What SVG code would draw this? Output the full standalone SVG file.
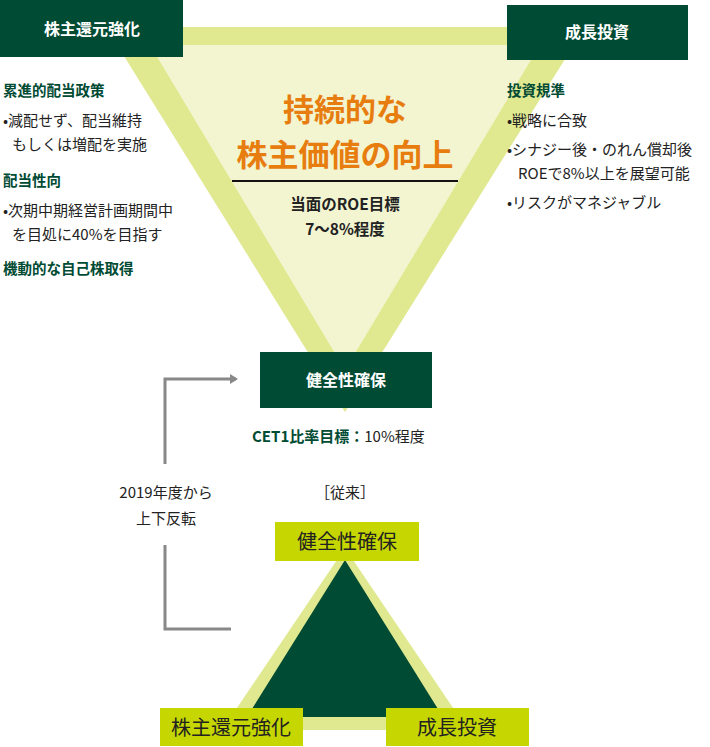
<svg xmlns="http://www.w3.org/2000/svg" width="710" height="747" viewBox="0 0 710 747">
<style>
text{font-family:"Noto Sans CJK JP","Noto Sans",sans-serif}
.dk{fill:#004b33}
.lime{fill:#c5d600}
.wt{fill:#fff;font-weight:bold;font-size:16px;text-anchor:middle}
.h{fill:#004b33;font-weight:bold;font-size:14.5px}
.b{fill:#222;font-size:15px}
.c{text-anchor:middle}
.lt{fill:#222;font-size:20px;text-anchor:middle}
</style>
<defs><marker id="ar" markerWidth="8" markerHeight="10" refX="6" refY="5" orient="auto" markerUnits="userSpaceOnUse"><path d="M0,0 L8,5 L0,10 Z" fill="#888"/></marker></defs>
<g id="top-triangle">
<rect x="180" y="27" width="330" height="18" fill="#e0e890"/>
<polygon points="106,27 585,27 345,412" fill="#e0e890"/>
<polygon points="150,45 540,45 345,370" fill="#f2f5d0"/>
<text x="345" y="121" class="c" font-size="31" font-weight="bold" fill="#e87d0f">持続的な</text>
<text x="345" y="166" class="c" font-size="31" font-weight="bold" fill="#e87d0f">株主価値の向上</text>
<line x1="232" y1="181" x2="458" y2="181" stroke="#111" stroke-width="2"/>
<text x="345" y="210" class="c" font-size="15.5" font-weight="bold" fill="#222">当面のROE目標</text>
<text x="345" y="235" class="c" font-size="15.5" font-weight="bold" fill="#222">7〜8%程度</text>
</g>
<g id="node-return"><rect x="0" y="0" width="183" height="57" class="dk"/><text x="92" y="35" class="wt">株主還元強化</text></g>
<g id="node-invest"><rect x="507" y="5" width="181" height="55" class="dk"/><text x="597" y="38" class="wt">成長投資</text></g>
<g id="node-health"><rect x="260" y="352" width="172" height="56" class="dk"/><text x="346" y="386" class="wt">健全性確保</text></g>
<g id="left-notes">
<text x="3" y="96" class="h">累進的配当政策</text>
<text x="3" y="126" class="b">•減配せず、配当維持</text>
<text x="12" y="150" class="b">もしくは増配を実施</text>
<text x="3" y="186" class="h">配当性向</text>
<text x="3" y="216" class="b">•次期中期経営計画期間中</text>
<text x="12" y="240" class="b">を目処に40%を目指す</text>
<text x="3" y="274" class="h">機動的な自己株取得</text>
</g>
<g id="right-notes">
<text x="507" y="96" class="h">投資規準</text>
<text x="507" y="126" class="b">•戦略に合致</text>
<text x="507" y="155" class="b">•シナジー後・のれん償却後</text>
<text x="518" y="179" class="b">ROEで8%以上を展望可能</text>
<text x="507" y="208" class="b">•リスクがマネジャブル</text>
</g>
<text x="252" y="442" font-size="15"><tspan fill="#004b33" font-weight="bold">CET1比率目標：</tspan><tspan fill="#222">10%程度</tspan></text>
<g id="connectors" fill="none" stroke="#888" stroke-width="3">
<polyline points="165,464 165,379 236,379" marker-end="url(#ar)"/>
<polyline points="165,545 165,629 231,629"/>
</g>
<text x="166" y="498" class="b c">2019年度から</text>
<text x="166" y="524" class="b c">上下反転</text>
<text x="345" y="498" class="b c">［従来］</text>
<g id="old-triangle">
<polygon points="345,548 222,730 468,730" fill="#e0e890"/>
<polygon points="345,560 247,717 443,717" class="dk"/>
</g>
<g id="old-health"><rect x="275" y="522" width="144" height="39" class="lime"/><text x="347" y="549" class="lt">健全性確保</text></g>
<g id="old-return"><rect x="160" y="708" width="143" height="38" class="lime"/><text x="231" y="735" class="lt">株主還元強化</text></g>
<g id="old-invest"><rect x="386" y="708" width="143" height="38" class="lime"/><text x="457" y="735" class="lt">成長投資</text></g>
</svg>
